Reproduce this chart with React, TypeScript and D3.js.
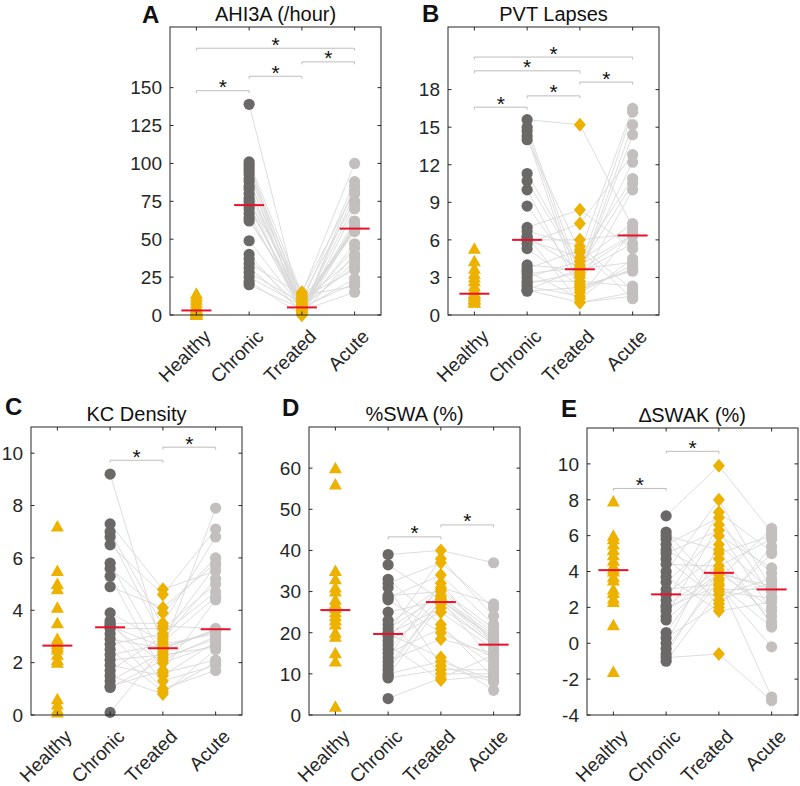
import React from 'react';
import * as d3 from 'd3';

const categories = ['Healthy', 'Chronic', 'Treated', 'Acute'];

// Panel A: AHI3A
const ahiHealthy = [0, 0, 0, 1, 1, 2, 2, 3, 3, 3, 4, 5, 6, 8, 10, 12, 14];
const ahiChronic = [139, 101, 99, 97, 95, 93, 90, 88, 85, 83, 80, 77, 75, 73, 72, 70, 67, 64, 62, 49, 40, 37, 34, 31, 28, 25, 22, 20];
const ahiTreated = [2, 14, 8, 3, 12, 6, 1, 10, 4, 5, 7, 0, 15, 3, 5, 9, 2, 6, 11, 4, 1, 5, 13, 3, 8, 6, 0, 4];
const ahiAcute = [80, 100, 88, 62, 75, 55, 85, 56, 73, 44, 58, 40, 82, 47, 57, 38, 60, 32, 30, 24, 57, 21, 19, 15, 57, 58, 70, 35];
const ahiTicks = [0, 25, 50, 75, 100, 125, 150];
const ahiSig: [number, number, number][] = [[0, 1, 148], [1, 2, 157.5], [2, 3, 167], [0, 3, 176]];

// Panel B: PVT Lapses
const pvtHealthy = [1.0, 1.0, 1.0, 1.2, 1.3, 1.3, 1.5, 1.5, 1.7, 1.7, 1.7, 2.0, 2.3, 2.7, 3.0, 3.3, 3.7, 4.3, 5.3];
const pvtChronic = [15.6, 15.0, 14.7, 14.3, 14.0, 11.3, 10.7, 10.0, 8.7, 7.0, 6.7, 6.3, 6.2, 6.0, 6.0, 5.7, 5.3, 4.0, 3.7, 3.5, 3.3, 3.0, 2.7, 2.5, 2.3, 2.0, 2.0, 1.9];
const pvtTreated = [15.2, 3.2, 2.5, 1.8, 5.0, 4.0, 3.7, 2.0, 3.0, 8.4, 5.5, 1.0, 3.7, 6.0, 4.6, 7.3, 2.3, 3.6, 5.2, 1.3, 3.8, 4.3, 2.7, 3.4, 1.5, 1.0, 3.7, 2.2];
const pvtAcute = [7.0, 15.2, 10.0, 4.0, 16.5, 6.4, 12.2, 3.7, 14.4, 5.3, 2.0, 1.8, 16.2, 6.5, 10.9, 12.8, 3.5, 6.3, 1.3, 4.5, 10.5, 7.3, 2.3, 5.7, 6.7, 1.5, 4.2, 3.6];
const pvtTicks = [0, 3, 6, 9, 12, 15, 18];
const pvtSig: [number, number, number][] = [[0, 1, 16.6], [1, 2, 17.5], [2, 3, 18.6], [0, 2, 19.5], [0, 3, 20.6]];

// Panel C: KC Density
const kcHealthy = [7.2, 5.5, 5.0, 4.8, 4.1, 3.5, 2.9, 2.8, 2.7, 2.6, 2.5, 2.3, 2.1, 2.0, 0.6, 0.4, 0.2, 0.1];
const kcChronic = [9.2, 7.3, 7.0, 6.8, 6.5, 5.8, 5.6, 5.3, 4.9, 3.9, 3.6, 3.5, 3.4, 3.4, 3.3, 3.1, 2.9, 2.7, 2.5, 2.3, 2.1, 1.9, 1.7, 1.5, 1.3, 1.1, 1.05, 0.1];
const kcTreated = [2.5, 4.8, 3.4, 2.9, 4.6, 2.2, 3.9, 1.6, 4.1, 2.8, 1.3, 3.5, 2.6, 2.0, 3.3, 1.0, 2.55, 3.1, 0.9, 2.7, 2.3, 1.5, 3.0, 0.8, 2.4, 1.7, 2.1, 2.55];
const kcAcute = [7.9, 5.5, 3.3, 5.2, 7.1, 2.9, 6.0, 2.1, 5.8, 4.5, 1.9, 6.8, 3.2, 2.7, 5.0, 1.7, 3.25, 4.7, 2.0, 3.1, 2.6, 2.8, 5.7, 2.5, 3.3, 4.4, 3.0, 3.2];
const kcTicks = [0, 2, 4, 6, 8, 10];
const kcSig: [number, number, number][] = [[1, 2, 9.73], [2, 3, 10.23]];

// Panel D: %SWA
const swaHealthy = [60, 56, 35, 33, 31, 30, 28, 27, 26, 25, 24, 23, 22, 20, 19, 15, 13, 2];
const swaChronic = [39, 36.5, 33, 32, 31, 29, 28.5, 28, 25, 23, 22, 21, 20, 19.7, 19.7, 19, 18, 17, 16, 15, 14, 13, 12, 11, 10, 9.5, 9, 4];
const swaTreated = [40, 28, 22, 37, 12, 30, 34, 20, 27.9, 10, 31, 29, 38, 26, 14, 30.5, 25, 8.5, 28.5, 21, 32, 18.5, 27.9, 28, 13, 27, 11, 9];
const swaAcute = [37, 17.5, 9, 26, 8, 20, 22, 14, 19, 10, 27, 18, 24, 17.3, 6, 21, 16, 9.5, 19.5, 12, 17.2, 15, 18.5, 13, 8.5, 17, 11, 14.5];
const swaTicks = [0, 10, 20, 30, 40, 50, 60];
const swaSig: [number, number, number][] = [[1, 2, 43.3], [2, 3, 46.2]];

// Panel E: ΔSWAK
const swakHealthy = [7.9, 6.0, 5.8, 5.5, 5.2, 4.9, 4.6, 4.3, 4.15, 4.0, 3.7, 3.5, 3.0, 2.8, 2.5, 2.3, 1.0, -1.6];
const swakChronic = [7.1, 6.2, 6.0, 5.8, 5.5, 5.2, 5.0, 4.7, 4.4, 4.0, 3.7, 3.4, 3.0, 2.75, 2.7, 2.4, 2.1, 1.8, 1.5, 1.3, 0.6, 0.3, 0.0, -0.3, -0.6, -0.8, -1.0, 2.0];
const swakTreated = [9.9, 3.0, 5.2, 2.0, 7.0, 3.6, 6.3, 2.4, 4.3, 8.0, 1.8, 6.0, 3.3, 5.0, 2.7, 7.3, 4.1, 3.9, 6.6, 3.85, 4.7, 2.2, 5.5, 3.5, 3.95, -0.6, 2.9, 3.2];
const swakAcute = [6.2, 3.0, 1.0, 5.4, 2.6, 6.4, 1.8, 3.4, 5.8, 3.0, 2.3, 4.2, 0.9, 6.0, 3.6, 5.1, 1.5, 2.0, 3.9, 3.2, 1.2, 5.0, 2.9, -3.0, 3.0, -3.2, 2.5, -0.2];
const swakTicks = [-4, -2, 0, 2, 4, 6, 8, 10];
const swakSig: [number, number, number][] = [[0, 1, 8.63], [1, 2, 10.7]];

const YELLOW = '#EDB100';
const DARK = '#6b6868';
const LIGHT = '#c3bfbf';
const RED = '#e8102a';
const AXIS = '#262626';
const FONT = '"Liberation Sans", Arial, Helvetica, sans-serif';

type Panel = {
  letter: string; title: string;
  healthy: number[]; chronic: number[]; treated: number[]; acute: number[];
  domain: [number, number]; ticks: number[]; sig: [number, number, number][];
  x0: number; y0: number; w: number; h: number; lx: number; ly: number;
};

const panels: Panel[] = [
  { letter: 'A', title: 'AHI3A (/hour)', healthy: ahiHealthy, chronic: ahiChronic, treated: ahiTreated, acute: ahiAcute, domain: [0, 190], ticks: ahiTicks, sig: ahiSig, x0: 170, y0: 27, w: 211, h: 288, lx: 142, ly: 23 },
  { letter: 'B', title: 'PVT Lapses', healthy: pvtHealthy, chronic: pvtChronic, treated: pvtTreated, acute: pvtAcute, domain: [0, 23], ticks: pvtTicks, sig: pvtSig, x0: 448, y0: 27, w: 211, h: 288, lx: 422, ly: 22 },
  { letter: 'C', title: 'KC Density', healthy: kcHealthy, chronic: kcChronic, treated: kcTreated, acute: kcAcute, domain: [0, 11], ticks: kcTicks, sig: kcSig, x0: 31, y0: 427, w: 211, h: 288, lx: 5, ly: 415 },
  { letter: 'D', title: '%SWA (%)', healthy: swaHealthy, chronic: swaChronic, treated: swaTreated, acute: swaAcute, domain: [0, 70], ticks: swaTicks, sig: swaSig, x0: 309, y0: 427, w: 211, h: 288, lx: 282, ly: 416 },
  { letter: 'E', title: '\u2206SWAK (%)', healthy: swakHealthy, chronic: swakChronic, treated: swakTreated, acute: swakAcute, domain: [-4, 12], ticks: swakTicks, sig: swakSig, x0: 587, y0: 428, w: 211, h: 287, lx: 561, ly: 417 },
];

const triPath = (cx: number, cy: number) => `M${cx},${cy - 6.5}L${cx + 6.5},${cy + 5}L${cx - 6.5},${cy + 5}Z`;
const diaPath = (cx: number, cy: number) => `M${cx},${cy - 7}L${cx + 6},${cy}L${cx},${cy + 7}L${cx - 6},${cy}Z`;

function PanelView({ p }: { p: Panel }) {
  const x = d3.scaleLinear().domain([0.5, 4.5]).range([p.x0, p.x0 + p.w]);
  const y = d3.scaleLinear().domain(p.domain).range([p.y0 + p.h, p.y0]);
  const groups = [p.healthy, p.chronic, p.treated, p.acute];
  const cx = (i: number) => x(i + 1);
  const line = d3.line<[number, number]>().x(d => d[0]).y(d => d[1]);
  const bottom = p.y0 + p.h;
  const tl = 3.5;
  return (
    <g>
      <text x={p.lx} y={p.ly} fontSize={24} fontWeight="bold" fontFamily={FONT} fill="#111">{p.letter}</text>
      <text x={p.x0 + p.w / 2} y={p.y0 - 6} fontSize={20} fontFamily={FONT} fill="#111" textAnchor="middle">{p.title}</text>
      {p.chronic.map((v, i) => (
        <path key={'l' + i} d={line([[cx(1), y(v)], [cx(2), y(p.treated[i])], [cx(3), y(p.acute[i])]]) || ''}
          fill="none" stroke="#d9d9d9" strokeWidth={0.9} />
      ))}
      {p.healthy.map((v, i) => <path key={'h' + i} d={triPath(cx(0), y(v))} fill={YELLOW} />)}
      {p.chronic.map((v, i) => <circle key={'c' + i} cx={cx(1)} cy={y(v)} r={5.6} fill={DARK} />)}
      {p.treated.map((v, i) => <path key={'t' + i} d={diaPath(cx(2), y(v))} fill={YELLOW} />)}
      {p.acute.map((v, i) => <circle key={'a' + i} cx={cx(3)} cy={y(v)} r={5.6} fill={LIGHT} />)}
      {groups.map((g, i) => {
        const m = d3.median(g) as number;
        return <line key={'m' + i} x1={cx(i) - 15} x2={cx(i) + 15} y1={y(m)} y2={y(m)} stroke={RED} strokeWidth={2} />;
      })}
      {p.sig.map(([a, b, lv], i) => {
        const yy = y(lv);
        return (
          <g key={'s' + i}>
            <path d={`M${cx(a)},${yy + 2.5}V${yy}H${cx(b)}V${yy + 2.5}`} fill="none" stroke="#bdbdbd" strokeWidth={1} />
            <text x={(cx(a) + cx(b)) / 2} y={yy + 3.5} fontSize={21} fontFamily={FONT} textAnchor="middle" fill="#111">*</text>
          </g>
        );
      })}
      <rect x={p.x0} y={p.y0} width={p.w} height={p.h} fill="none" stroke={AXIS} strokeWidth={1} />
      {p.ticks.map(t => (
        <g key={'yt' + t}>
          <line x1={p.x0} x2={p.x0 + tl} y1={y(t)} y2={y(t)} stroke={AXIS} />
          <line x1={p.x0 + p.w} x2={p.x0 + p.w - tl} y1={y(t)} y2={y(t)} stroke={AXIS} />
          <text x={p.x0 - 8} y={y(t)} dy="0.36em" fontSize={19} fontFamily={FONT} textAnchor="end" fill={AXIS}>{t}</text>
        </g>
      ))}
      {categories.map((c, i) => (
        <g key={'xt' + c}>
          <line x1={cx(i)} x2={cx(i)} y1={bottom} y2={bottom - tl} stroke={AXIS} />
          <line x1={cx(i)} x2={cx(i)} y1={p.y0} y2={p.y0 + tl} stroke={AXIS} />
          <text transform={`translate(${cx(i) + 6},${bottom + 13}) rotate(-45)`} dy="0.72em" fontSize={19} fontFamily={FONT} textAnchor="end" fill={AXIS}>{c}</text>
        </g>
      ))}
    </g>
  );
}

export default function App() {
  return (
    <div style={{ position: 'absolute', left: 0, top: 0 }}>
      <svg width={800} height={786} style={{ display: 'block', background: '#fff' }}>
        {panels.map(p => <PanelView key={p.letter} p={p} />)}
      </svg>
    </div>
  );
}
